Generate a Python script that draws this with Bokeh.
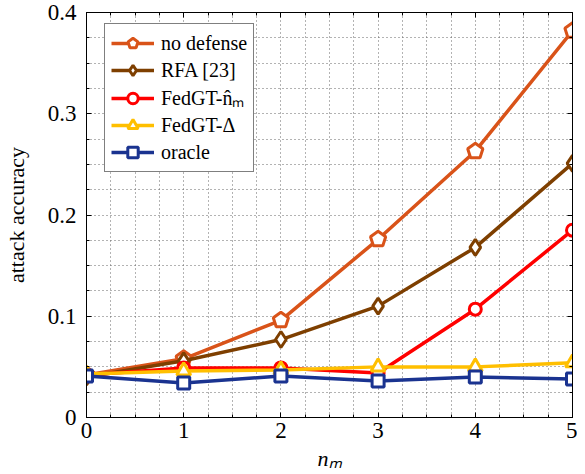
from bokeh.plotting import figure
from bokeh.models import Legend, LegendItem, LinearAxis, FixedTicker, Range1d
from bokeh.embed import file_html
from bokeh.resources import INLINE

n_m = [0, 1, 2, 3, 4, 5]
no_defense = [0.042, 0.058, 0.096, 0.176, 0.263, 0.382]
rfa = [0.040, 0.056, 0.077, 0.110, 0.168, 0.251]
fedgt_nm = [0.042, 0.049, 0.049, 0.044, 0.107, 0.185]
fedgt_delta = [0.043, 0.046, 0.047, 0.050, 0.050, 0.054]
oracle = [0.041, 0.034, 0.041, 0.036, 0.040, 0.038]

x_ticks = [0, 1, 2, 3, 4, 5]
y_ticks = [0, 0.1, 0.2, 0.3, 0.4]
y_labels = {0: "0", 0.1: "0.1", 0.2: "0.2", 0.3: "0.3", 0.4: "0.4"}

FONT = "'Liberation Serif', 'Times New Roman', serif"

p = figure(width=577, height=474, output_backend="svg", toolbar_location=None,
           x_range=Range1d(0, 5), y_range=Range1d(0, 0.4),
           min_border_left=86, min_border_right=5, min_border_top=12, min_border_bottom=57)
p.background_fill_color = "white"
p.outline_line_color = "black"
p.outline_line_width = 1

x_minor = [i * 0.25 for i in range(21)]
y_minor = [i * 0.025 for i in range(17)]

p.xaxis.ticker = FixedTicker(ticks=x_ticks, minor_ticks=x_minor)
p.yaxis.ticker = FixedTicker(ticks=y_ticks, minor_ticks=y_minor)
p.yaxis.major_label_overrides = y_labels
for ax in [p.xaxis[0], p.yaxis[0]]:
    ax.axis_line_color = "black"
    ax.major_tick_in = 5
    ax.major_tick_out = 0
    ax.minor_tick_in = 3
    ax.minor_tick_out = 0
    ax.major_tick_line_color = "black"
    ax.minor_tick_line_color = "black"
    ax.major_label_text_font = FONT
    ax.major_label_text_font_size = "23px"
    ax.major_label_text_color = "black"
    ax.axis_label_text_font = FONT
    ax.axis_label_text_color = "black"
    ax.axis_label_text_font_style = "normal"
p.xaxis.major_label_standoff = 5
p.yaxis.major_label_standoff = 10
p.xaxis.axis_label = "nₘ"
p.xaxis.axis_label_text_font_size = "22px"
p.xaxis.axis_label_text_font_style = "italic"
p.xaxis.axis_label_standoff = 5
p.yaxis.axis_label = "attack accuracy"
p.yaxis.axis_label_text_font_size = "22px"
p.yaxis.axis_label_standoff = 16

for loc in ["right", "above"]:
    tks = x_ticks if loc == "above" else y_ticks
    ax = LinearAxis(ticker=FixedTicker(ticks=tks,
                                       minor_ticks=x_minor if loc == "above" else y_minor),
                    major_label_overrides={t: "" for t in tks}, major_label_standoff=0,
                    major_tick_in=5, major_tick_out=0, minor_tick_in=3, minor_tick_out=0,
                    axis_line_color="black")
    p.add_layout(ax, loc)

p.xgrid.ticker = FixedTicker(ticks=x_minor)
p.ygrid.ticker = FixedTicker(ticks=y_minor)
for g in [p.xgrid[0], p.ygrid[0]]:
    g.grid_line_color = "#666666"
    g.grid_line_dash = "1 3"
    g.grid_line_width = 1

series = [
    ("no defense", no_defense, "#D95319", "pentagon"),
    ("RFA [23]", rfa, "#7E3F00", "diamond"),
    ("FedGT-n̂ₘ", fedgt_nm, "#FF0000", "circle"),
    ("FedGT-Δ", fedgt_delta, "#FFBF00", "triangle"),
    ("oracle", oracle, "#1A3390", "square"),
]

items = []
for label, vals, color, marker in series:
    ln = p.line(n_m, vals, line_color=color, line_width=3.5)
    if marker == "pentagon":
        mk = p.ngon(n_m, vals, radius=8, radius_units="screen", n=5,
                    fill_color="white", line_color=color, line_width=3)
    else:
        size = {"diamond": 16, "circle": 12, "triangle": 14, "square": 12}[marker]
        mk = p.scatter(n_m, vals, marker=marker, size=size, fill_color="white",
                       line_color=color, line_width=3)
    items.append(LegendItem(label=label, renderers=[ln, mk]))

legend = Legend(items=items, location=(18, 245))
legend.label_text_font = FONT
legend.label_text_font_size = "20px"
legend.label_text_color = "black"
legend.border_line_color = "black"
legend.border_line_width = 1
legend.glyph_width = 43
legend.glyph_height = 26
legend.spacing = 1
legend.padding = 6
legend.margin = 0
legend.label_standoff = 7
legend.background_fill_alpha = 1
p.add_layout(legend)

open("out.html", "w").write(file_html(p, INLINE))
